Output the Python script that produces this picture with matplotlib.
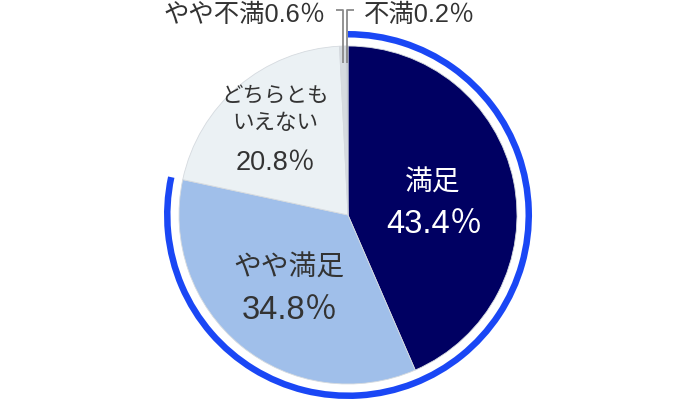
import matplotlib.pyplot as plt
from matplotlib.patches import Wedge
import numpy as np

# データ
labels = ['満足', 'やや満足', 'どちらとも\nいえない', 'やや不満', '不満']
values = [43.4, 34.8, 20.8, 0.6, 0.2]
colors = ['#000062', '#a0bfea', '#ebf1f4', '#d6dbe0', '#b9bfc5']

jp = ['Noto Sans CJK JP', 'DejaVu Sans']
num = ['Liberation Sans', 'Noto Sans CJK JP', 'DejaVu Sans']

W, H = 690, 402
fig = plt.figure(figsize=(W / 100, H / 100), dpi=100)
ax = fig.add_axes([0, 0, 1, 1])

cx, cy, r = 348, H - 216, 169

wedges, _ = ax.pie(values, colors=colors, startangle=90, counterclock=False,
                   center=(cx, cy), radius=r, frame=True,
                   wedgeprops=dict(edgecolor='#d5dadf', linewidth=0.6))
ax.set_xlim(0, W)
ax.set_ylim(0, H)
ax.set_aspect('equal')
ax.axis('off')

# 満足 + やや満足 を囲む外側のリング
share = (values[0] + values[1]) / sum(values)
ring = Wedge((cx, cy), r + 15, 90 - share * 360, 90, width=6.5,
             facecolor='#1a47f5', edgecolor='none')
ax.add_patch(ring)

def px(x, y):
    return x, H - y

# 内側ラベル
ax.text(*px(433, 183), labels[0], color='white', fontsize=20, family=jp,
        ha='center', va='center')
ax.text(*px(434, 225), f'{values[0]}％', color='white', fontsize=23.5, family=num,
        ha='center', va='center')
ax.text(*px(289, 268), labels[1], color='#333333', fontsize=20, family=jp,
        ha='center', va='center')
ax.text(*px(290, 311), f'{values[1]}％', color='#333333', fontsize=23.5, family=num,
        ha='center', va='center')
ax.text(*px(275, 110), labels[2], color='#333333', fontsize=15.5, family=jp,
        ha='center', va='center', linespacing=1.25)
ax.text(*px(276, 163), f'{values[2]}％', color='#333333', fontsize=19.5, family=num,
        ha='center', va='center')

# 小さい項目の引き出し線
cum = np.cumsum([0] + values)
top_y = H - 11
for i, side in [(3, -1), (4, 1)]:
    mid = 90 - (cum[i] + values[i] / 2) / sum(values) * 360
    x0 = cx + r * np.cos(np.radians(mid))
    y0 = cy + r * 0.9 * np.sin(np.radians(mid))
    ax.plot([x0, x0, x0 + side * 7], [y0, top_y, top_y], color='#8a8a8a',
            linewidth=1.3, solid_capstyle='butt')

ax.text(*px(326, 15), f'{labels[3]}{values[3]}％', color='#333333', fontsize=18.3,
        family=num, ha='right', va='center')
ax.text(*px(364, 15), f'{labels[4]}{values[4]}％', color='#333333', fontsize=18.3,
        family=num, ha='left', va='center')

fig.savefig('out.png', dpi=100)
